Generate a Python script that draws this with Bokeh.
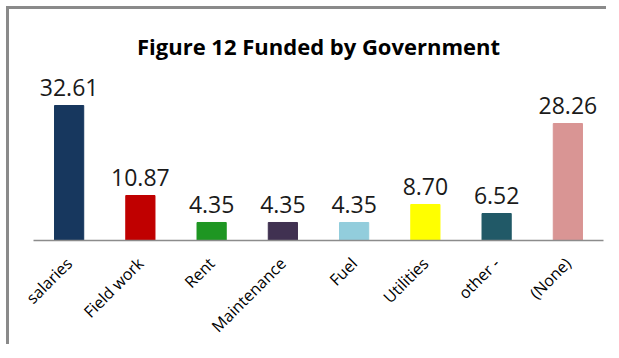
import math
from bokeh.plotting import figure
from bokeh.models import ColumnDataSource, Range1d
from bokeh.core.properties import value
from bokeh.embed import file_html
from bokeh.resources import INLINE

categories = ["salaries", "Field work", "Rent", "Maintenance", "Fuel", "Utilities", "other -", "(None)"]
values = [32.61, 10.87, 4.35, 4.35, 4.35, 8.70, 6.52, 28.26]
labels = ["32.61", "10.87", "4.35", "4.35", "4.35", "8.70", "6.52", "28.26"]
colors = ["#17375E", "#C00000", "#1E9622", "#403151", "#92CDDC", "#FFFF00", "#215967", "#D99594"]

src = ColumnDataSource(dict(cat=categories, val=values, lab=labels, col=colors))

p = figure(x_range=categories, y_range=Range1d(0, 43), width=600, height=338,
           output_backend="svg", toolbar_location=None,
           title="Figure 12 Funded by Government",
           min_border_left=24, min_border_right=6, min_border_top=53, min_border_bottom=107)
p.margin = (6, 0, 0, 6)
p.styles = {"border-top": "3px solid #8a8a8a", "border-left": "3px solid #8a8a8a"}

p.title.align = "center"
p.title.text_font = "Open Sans"
p.title.text_font_size = "22px"
p.title.text_font_style = "bold"
p.title.text_color = "#000000"
p.title.standoff = 3

p.vbar(x="cat", top="val", width=0.41, fill_color="col", line_color="col", source=src)
p.text(x="cat", y="val", text="lab", source=src, text_align="center", text_baseline="alphabetic",
       y_offset=-18, text_font=value("Open Sans"), text_font_size="23px", text_color="#1a1a1a")

p.yaxis.visible = False
p.xgrid.grid_line_color = None
p.ygrid.grid_line_color = None
p.outline_line_color = None
p.xaxis.axis_line_color = "#8c8c8c"
p.xaxis.axis_line_width = 1.5
p.xaxis.major_tick_line_color = None
p.xaxis.minor_tick_line_color = None
p.xaxis.major_label_orientation = math.pi / 4
p.xaxis.major_label_text_font = "Open Sans"
p.xaxis.major_label_text_font_size = "16px"
p.xaxis.major_label_text_color = "#000000"
p.xaxis.major_label_standoff = 14
p.x_range.range_padding = 0

open("out.html", "w").write(file_html(p, INLINE))
